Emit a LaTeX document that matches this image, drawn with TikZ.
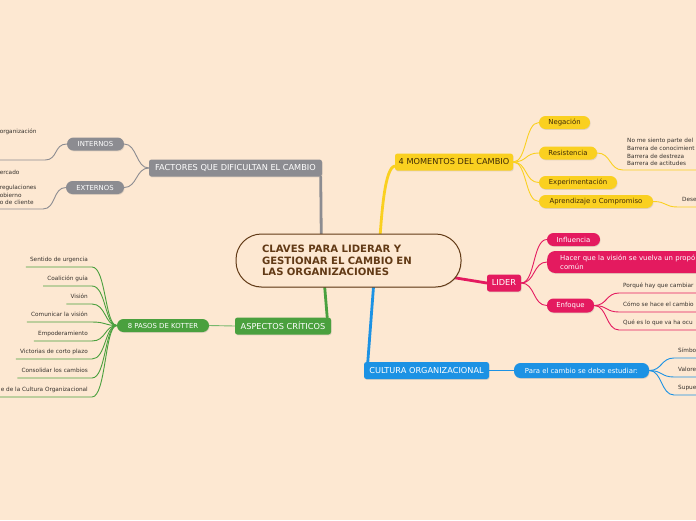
\documentclass[tikz,border=0pt]{standalone}
\usepackage{fontspec}
\setmainfont{DejaVu Sans}
\usetikzlibrary{positioning, calc, shadows, backgrounds}
\definecolor{mapbg}{RGB}{253,232,210}
\definecolor{titlebrown}{RGB}{98,58,22}
\definecolor{factorgray}{RGB}{140,140,145}
\definecolor{aspectgreen}{RGB}{74,160,62}
\definecolor{momentyellow}{RGB}{250,208,32}
\definecolor{momenttext}{RGB}{62,42,6}
\definecolor{liderpink}{RGB}{228,26,95}
\definecolor{cultureblue}{RGB}{28,146,228}
\definecolor{leaftext}{RGB}{55,50,45}
\tikzset{
    softshadow/.style={drop shadow={shadow xshift=.6pt, shadow yshift=-.9pt, opacity=.22}},
    title/.style={rectangle, rounded corners=25.5pt, draw=titlebrown, line width=1pt, fill=mapbg, minimum width=225pt, minimum height=53pt, text width=173pt, inner sep=0pt, align=left, text=titlebrown, font=\bfseries\fontsize{10.1}{11.8}\selectfont, softshadow},
    topic/.style={rectangle, rounded corners=2.5pt, text=white, font=\fontsize{8.2}{9}\selectfont, minimum height=17pt, inner sep=0pt, softshadow},
    subtopic/.style={rectangle, rounded corners=6.5pt, text=white, font=\fontsize{6.9}{8}\selectfont, minimum height=13pt, inner sep=0pt, softshadow},
    leaf/.style={inner xsep=4pt, inner ysep=4pt, text height=4.4pt, text depth=1.5pt, text=leaftext, font=\fontsize{5.75}{7.5}\selectfont},
    leafblock/.style={inner xsep=4pt, inner ysep=4pt, align=left, text=leaftext, font=\fontsize{5.75}{7.6}\selectfont},
    branch/.style={line width=.9pt},
    trunk/.style={line width=2.8pt, line cap=round}
}
\begin{document}
\begin{tikzpicture}[x=1pt, y=-1pt]
    \useasboundingbox (0,0) rectangle (696,520);
    \begin{scope}[on background layer]
        \fill[mapbg] (0,0) rectangle (696,520);
    \end{scope}
    \clip (0,0) rectangle (696,520);

    % Central topic
    \node[title] (title) at (348.5,260.5) {CLAVES PARA LIDERAR Y\\GESTIONAR EL CAMBIO EN\\LAS ORGANIZACIONES};

    % Main topics
    \node[topic, fill=factorgray, minimum width=173pt] (factores) at (235.5,168) {FACTORES QUE DIFICULTAN EL CAMBIO};
    \node[topic, fill=aspectgreen, minimum width=96pt] (aspectos) at (283,326) {ASPECTOS CRÍTICOS};
    \node[topic, fill=momentyellow, text=momenttext, minimum width=118pt] (momentos) at (454,162) {4 MOMENTOS DEL CAMBIO};
    \node[topic, fill=liderpink, minimum width=34pt] (lider) at (504,283) {LIDER};
    \node[topic, fill=cultureblue, minimum width=125pt] (cultura) at (426.5,370.5) {CULTURA ORGANIZACIONAL};

    % Trunks
    \begin{scope}[on background layer]
        \draw[trunk, factorgray] ([xshift=-27pt]title.center) -- ([xshift=-1.5pt]factores.south east);
        \draw[trunk, aspectgreen] ([xshift=-26pt]title.center) -- ([xshift=-4pt]aspectos.north east);
        \draw[trunk, momentyellow] ([xshift=30pt]title.center) .. controls +(3,-50) and +(-10,2) .. ([yshift=-4pt]momentos.west);
        \draw[trunk, liderpink] (title.center) -- (lider.west);
        \draw[trunk, cultureblue] ([xshift=27pt]title.center) -- ([xshift=4pt]cultura.north west);
    \end{scope}

    % Factores
    \node[subtopic, fill=factorgray, minimum width=57pt] (internos) at (95.5,144) {INTERNOS};
    \node[subtopic, fill=factorgray, minimum width=58pt] (externos) at (95,187.5) {EXTERNOS};
    \draw[branch, factorgray] (factores.west) .. controls +(-13,0) and +(13,0) .. (internos.east);
    \draw[branch, factorgray] (factores.west) .. controls +(-13,0) and +(13,0) .. (externos.east);
    \node[leafblock, anchor=south east, text width=41pt] (intleaf) at (45,160) {organización\\\mbox{}\\\mbox{}\\\mbox{}};
    \node[leafblock, anchor=south east, text width=39pt] (extleaf) at (43,209) {ercado\\\mbox{}\\regulaciones\\obierno\\o de cliente};
    \draw[branch, factorgray] (intleaf.south west) -- (intleaf.south east) .. controls +(13,0) and +(-13,0) .. (internos.west);
    \draw[branch, factorgray] (extleaf.south west) -- (extleaf.south east) .. controls +(13,0) and +(-13,0) .. (externos.west);

    % Kotter
    \node[subtopic, fill=aspectgreen, minimum width=92pt] (kotter) at (163,325.5) {8 PASOS DE KOTTER};
    \draw[branch, aspectgreen!75] (aspectos.west) -- (kotter.east);
    \node[leaf, anchor=south east] (k1) at (92,267) {Sentido de urgencia};
    \node[leaf, anchor=south east] (k2) at (92,286) {Coalición guía};
    \node[leaf, anchor=south east] (k3) at (92,304) {Visión};
    \node[leaf, anchor=south east] (k4) at (92,322) {Comunicar la visión};
    \node[leaf, anchor=south east] (k5) at (92,341) {Empoderamiento};
    \node[leaf, anchor=south east] (k6) at (92,359) {Victorias de corto plazo};
    \node[leaf, anchor=south east] (k7) at (92,378) {Consolidar los cambios};
    \node[leaf, anchor=south east] (k8) at (92,397) {e de la Cultura Organizacional};
    \draw[branch, aspectgreen] (k1.south west) -- (k1.south east) .. controls +(14,0) and +(-12,0) .. (kotter.west);
    \draw[branch, aspectgreen] (k2.south west) -- (k2.south east) .. controls +(14,0) and +(-12,0) .. (kotter.west);
    \draw[branch, aspectgreen] (k3.south west) -- (k3.south east) .. controls +(14,0) and +(-12,0) .. (kotter.west);
    \draw[branch, aspectgreen] (k4.south west) -- (k4.south east) .. controls +(14,0) and +(-12,0) .. (kotter.west);
    \draw[branch, aspectgreen] (k5.south west) -- (k5.south east) .. controls +(14,0) and +(-12,0) .. (kotter.west);
    \draw[branch, aspectgreen] (k6.south west) -- (k6.south east) .. controls +(14,0) and +(-12,0) .. (kotter.west);
    \draw[branch, aspectgreen] (k7.south west) -- (k7.south east) .. controls +(14,0) and +(-12,0) .. (kotter.west);
    \draw[branch, aspectgreen] (k8.south west) -- (k8.south east) .. controls +(14,0) and +(-12,0) .. (kotter.west);

    % Momentos
    \node[subtopic, fill=momentyellow, text=momenttext, minimum width=51pt] (negacion) at (564.5,122.5) {Negación};
    \node[subtopic, fill=momentyellow, text=momenttext, minimum width=58pt] (resistencia) at (568,153) {Resistencia};
    \node[subtopic, fill=momentyellow, text=momenttext, minimum width=78pt] (experimentacion) at (578,182.5) {Experimentación};
    \node[subtopic, fill=momentyellow, text=momenttext, minimum width=114pt] (aprendizaje) at (596,201.5) {Aprendizaje o Compromiso};
    \draw[branch, momentyellow] (momentos.east) .. controls +(14,0) and +(-14,0) .. (negacion.west);
    \draw[branch, momentyellow] (momentos.east) .. controls +(14,0) and +(-14,0) .. (resistencia.west);
    \draw[branch, momentyellow] (momentos.east) .. controls +(14,0) and +(-14,0) .. (experimentacion.west);
    \draw[branch, momentyellow] (momentos.east) .. controls +(14,0) and +(-14,0) .. (aprendizaje.west);
    \node[leafblock, anchor=south west] (resleaf) at (623,170) {No me siento parte del\\Barrera de conocimient\\Barrera de destreza\\Barrera de actitudes};
    \node[leaf, anchor=south west] (aprleaf) at (678,207) {Dese};
    \draw[branch, momentyellow] (resistencia.east) .. controls +(14,0) and +(-14,0) .. (resleaf.south west) -- (resleaf.south east);
    \draw[branch, momentyellow] (aprendizaje.east) .. controls +(14,0) and +(-14,0) .. (aprleaf.south west) -- (aprleaf.south east);

    % Lider
    \node[subtopic, fill=liderpink, minimum width=53pt] (influencia) at (573.5,239.5) {Influencia};
    \node[subtopic, fill=liderpink, rounded corners=8pt, anchor=west, minimum height=22pt, text width=140pt, inner xsep=13pt, align=left, font=\fontsize{6.9}{9}\selectfont] (hacer) at (547,262) {Hacer que la visión se vuelva un propó\\común};
    \node[subtopic, fill=liderpink, minimum width=47pt, minimum height=14pt] (enfoque) at (570.5,305.5) {Enfoque};
    \draw[branch, liderpink] (lider.east) .. controls +(14,0) and +(-14,0) .. (influencia.west);
    \draw[branch, liderpink] (lider.east) .. controls +(14,0) and +(-14,0) .. (hacer.west);
    \draw[branch, liderpink] (lider.east) .. controls +(14,0) and +(-14,0) .. (enfoque.west);
    \node[leaf, anchor=south west] (e1) at (619,293) {Porqué hay que cambiar};
    \node[leaf, anchor=south west] (e2) at (619,312) {Cómo se hace el cambio};
    \node[leaf, anchor=south west] (e3) at (619,330) {Qué es lo que va ha ocu};
    \draw[branch, liderpink] (enfoque.east) .. controls +(13,0) and +(-13,0) .. (e1.south west) -- (e1.south east);
    \draw[branch, liderpink] (enfoque.east) .. controls +(13,0) and +(-13,0) .. (e2.south west) -- (e2.south east);
    \draw[branch, liderpink] (enfoque.east) .. controls +(13,0) and +(-13,0) .. (e3.south west) -- (e3.south east);

    % Cultura
    \node[subtopic, fill=cultureblue, minimum width=135pt, minimum height=15pt] (estudiar) at (581.5,370.5) {Para el cambio se debe estudiar:};
    \draw[branch, cultureblue] (cultura.east) -- (estudiar.west);
    \node[leaf, anchor=south west] (c1) at (674,358) {Símbo};
    \node[leaf, anchor=south west] (c2) at (674,377) {Valore};
    \node[leaf, anchor=south west] (c3) at (674,395) {Supue};
    \draw[branch, cultureblue] (estudiar.east) .. controls +(13,0) and +(-13,0) .. (c1.south west) -- (c1.south east);
    \draw[branch, cultureblue] (estudiar.east) .. controls +(13,0) and +(-13,0) .. (c2.south west) -- (c2.south east);
    \draw[branch, cultureblue] (estudiar.east) .. controls +(13,0) and +(-13,0) .. (c3.south west) -- (c3.south east);
\end{tikzpicture}
\end{document}
